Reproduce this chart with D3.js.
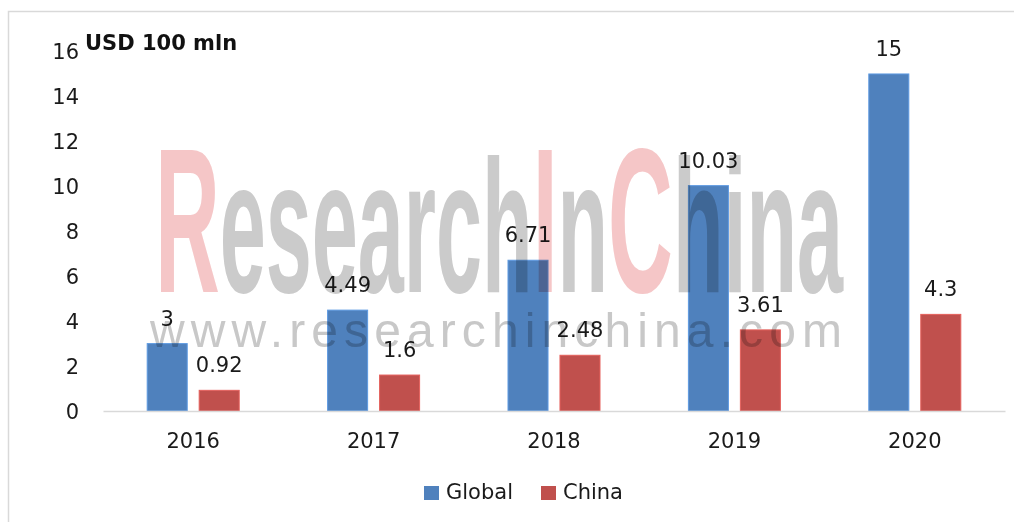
<!DOCTYPE html>
<html>
<head>
<meta charset="utf-8">
<script src="https://cdn.jsdelivr.net/npm/d3@7"></script>
<style>
  html, body { margin: 0; padding: 0; background: #fff; }
  svg { display: block; font-family: 'DejaVu Sans', Verdana, sans-serif; }
</style>
</head>
<body>
<div id="chart"></div>
<script>
// Chart data
const years = ['2016', '2017', '2018', '2019', '2020'];
const seriesNames = ['Global', 'China'];
const globalValues = [3, 4.49, 6.71, 10.03, 15];
const chinaValues = [0.92, 1.6, 2.48, 3.61, 4.3];
const yTicks = [0, 2, 4, 6, 8, 10, 12, 14, 16];
const unitLabel = 'USD 100 mln';
const colors = { Global: '#4F81BD', China: '#C0504D' };

const W = 1014, H = 522;
const plot = { left: 103, right: 1005, top: 51.5, bottom: 411 };

const svg = d3.select('#chart').append('svg')
  .attr('width', W).attr('height', H)
  .attr('viewBox', `0 0 ${W} ${H}`);

// outer frame (runs off the right/bottom edge)
svg.append('rect')
  .attr('x', 8.5).attr('y', 11.5)
  .attr('width', W + 20).attr('height', H + 20)
  .attr('fill', '#fff').attr('stroke', '#D9D9D9').attr('stroke-width', 1.5);

// Scales
const x0 = d3.scaleBand().domain(years).range([plot.left, plot.right]);
const x1 = d3.scaleBand().domain(seriesNames)
  .range([x0.bandwidth() / 2 - 46, x0.bandwidth() / 2 + 46])
  .paddingInner(0.23);
const y = d3.scaleLinear().domain([0, 16]).range([plot.bottom, plot.top]);

const rows = years.map((yr, i) => ({
  year: yr,
  values: [
    { key: 'Global', value: globalValues[i] },
    { key: 'China', value: chinaValues[i] }
  ]
}));

// Y axis (labels only)
const yAxis = svg.append('g')
  .attr('transform', `translate(${plot.left - 24},0)`)
  .call(d3.axisLeft(y).tickValues(yTicks).tickSize(0).tickPadding(0));
yAxis.select('.domain').remove();
yAxis.selectAll('text')
  .attr('font-size', '21px').attr('fill', '#1a1a1a')
  .attr('font-family', "'DejaVu Sans', Verdana, sans-serif")
  .attr('dy', '0.34em');

// unit label
svg.append('text')
  .attr('x', 85).attr('y', 50)
  .attr('font-size', '21px').attr('font-weight', 'bold').attr('fill', '#111')
  .text(unitLabel);

// Bars
const groups = svg.append('g').selectAll('g').data(rows).join('g')
  .attr('transform', d => `translate(${x0(d.year)},0)`);

groups.selectAll('rect').data(d => d.values).join('rect')
  .attr('x', d => x1(d.key))
  .attr('y', d => y(d.value))
  .attr('width', x1.bandwidth())
  .attr('height', d => y(0) - y(d.value))
  .attr('fill', d => colors[d.key])
  .attr('stroke', d => d3.color(colors[d.key]).brighter(0.5))
  .attr('stroke-width', 1);

// X axis
const xAxis = svg.append('g')
  .attr('transform', `translate(0,${plot.bottom})`)
  .call(d3.axisBottom(x0).tickSize(0).tickPadding(22));
xAxis.select('.domain').attr('stroke', '#D9D9D9').attr('stroke-width', 1.5);
xAxis.selectAll('text')
  .attr('font-size', '21px').attr('fill', '#1a1a1a')
  .attr('font-family', "'DejaVu Sans', Verdana, sans-serif");

// Watermark (multiplied over the bars)
const wm = svg.append('g').style('mix-blend-mode', 'multiply');
const wmText = wm.append('text')
  .attr('x', 155).attr('y', 292)
  .attr('font-family', "'Liberation Sans Narrow', 'Liberation Sans', sans-serif")
  .attr('font-weight', 'bold')
  .attr('textLength', 688).attr('lengthAdjust', 'spacingAndGlyphs');
[['R', '#F5C6C7', 206], ['esearch', '#CBCBCB', 190], ['I', '#F5C6C7', 206], ['n', '#CBCBCB', 190],
 ['C', '#F5C6C7', 206], ['hina', '#CBCBCB', 190]].forEach(([t, c, fs]) => {
  wmText.append('tspan').attr('fill', c).attr('font-size', fs + 'px').text(t);
});
wm.append('text')
  .attr('x', 150).attr('y', 347)
  .attr('font-family', "'Liberation Sans', Arial, sans-serif")
  .attr('font-size', '48px').attr('fill', '#C8C8C8')
  .attr('textLength', 692).attr('lengthAdjust', 'spacing')
  .text('www.researchinchina.com');

// Data labels
groups.selectAll('text.val').data(d => d.values).join('text')
  .attr('class', 'val')
  .attr('x', d => x1(d.key) + x1.bandwidth() / 2)
  .attr('y', d => y(d.value) - 18)
  .attr('text-anchor', 'middle')
  .attr('font-size', '21px').attr('fill', '#1a1a1a')
  .text(d => d.value);

// Legend
const legend = svg.append('g').attr('transform', 'translate(424,486)');
const legendX = [0, 117];
seriesNames.forEach((s, i) => {
  legend.append('rect')
    .attr('x', legendX[i]).attr('y', 0)
    .attr('width', 15).attr('height', 14)
    .attr('fill', colors[s]);
  legend.append('text')
    .attr('x', legendX[i] + 22).attr('y', 13)
    .attr('font-size', '21px').attr('fill', '#1a1a1a')
    .text(s);
});
</script>
</body>
</html>
